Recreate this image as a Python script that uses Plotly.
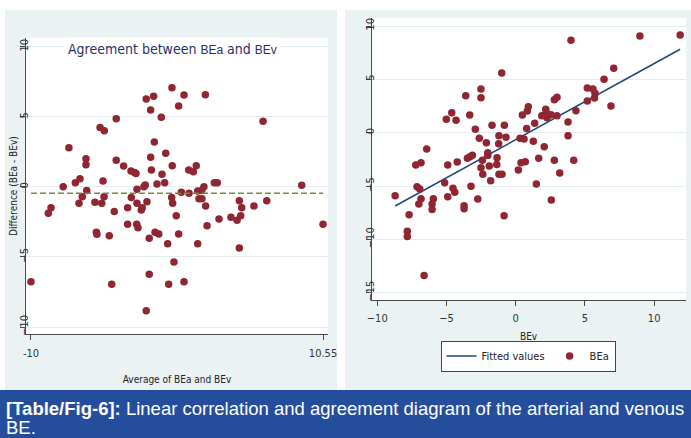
import plotly.graph_objects as go

W, H = 691, 438

# ---------------- data: left panel (agreement / Bland-Altman) ----------------
avg_be = [-10.00, -8.78, -8.59, -7.73, -7.33, -6.88, -6.55, -6.62, -6.39, -6.13,
          -6.13, -6.08, -5.50, -5.40, -5.36, -5.14, -4.84, -4.93, -4.86, -5.02,
          -4.49, -4.32, -4.14, -4.00, -4.00, -3.48, -3.20, -3.20, -2.96, -2.72,
          -2.61, -2.94, -2.54, -2.54, -2.56, -2.47, -2.24, -2.17, -2.05, -1.96,
          -1.89, -1.58, -1.37, -1.32, -1.58, -1.53, -1.84, -1.68, -1.68, -1.89,
          -1.27, -1.01, -1.13, -0.83, -0.78, -0.59, -0.52, -0.38, -0.31, -0.08,
          0.39, 0.77, -0.06, -0.10, -0.03, 0.22, 0.06, 0.39, 0.77, 0.58,
          1.12, 1.10, 1.42, 1.63, 1.73, 2.01, 2.17, 1.82, 2.03, 2.27,
          2.29, 2.39, 1.73, 2.90, 3.11, 3.23, 4.07, 4.50, 4.76, 4.66,
          4.83, 4.66, 5.69, 6.33, 6.59, 9.05, 10.55]
diff_be = [-6.76, -1.88, -1.48, 0.02, 2.81, 0.31, 0.59, -1.16, -0.69, 2.02,
           1.59, -0.26, -1.09, -3.24, -3.38, 4.24, 4.02, 0.43, -0.69, -1.16,
           -3.48, -6.95, -1.76, 4.88, 1.91, 1.50, -1.48, -2.66, 1.14, 1.04,
           0.96, -0.76, -0.16, -1.16, -2.66, -2.91, -1.64, -1.48, 0.02, 0.14,
           6.29, 5.50, 6.48, 3.21, 2.12, 1.21, -1.05, -3.66, -6.24, -8.84,
           -3.24, -3.36, 0.21, 4.98, 0.91, 0.31, 2.41, -4.05, -6.95, 7.09,
           5.79, 6.57, 1.52, -0.76, -1.16, -2.05, -5.36, -3.36, -6.76, -0.38,
           -0.45, 1.21, 1.09, 1.52, -0.29, -0.26, 0.02, -0.84, -0.84, 6.59,
           -1.36, -2.76, -4.05, 0.31, 0.31, -2.29, -2.16, -2.38, -2.05, -0.98,
           -1.48, -4.36, -1.36, 4.69, -0.98, 0.12, -2.66]
mean_diff = -0.45
left_xticks = [-10, 10.55]
left_xlabels = ["-10", "10.55"]
left_yticks = [-10, -5, 0, 5, 10]

# ---------------- data: right panel (correlation) ----------------
bev = [-1.01, -2.51, -2.51, -3.61, -4.62, -5.01, -4.31, -3.32, -6.43, -7.22,
       -6.84, -2.92, -2.63, -1.71, -0.82, -1.21, -1.23, -0.70, -2.12, -2.02,
       -2.02, -2.41, -3.13, -3.30, -3.49, -4.22, -4.91, -2.51, -2.38, -1.35,
       -1.37, -1.91, -1.21, -0.99, -1.81, -5.13, -3.23, -7.13, -6.93, -4.91,
       -4.53, -4.40, -8.71, -6.84, -7.00, -5.95, -6.04, -6.04, -7.70, -3.73,
       -3.73, -2.74, -0.84, -7.83, -7.83, -6.62, 0.19, 0.38, 0.69, 0.31,
       0.60, 0.48, 0.84, 0.91, 0.79, 3.99, 8.97, 11.88, 7.08, 6.38,
       5.17, 5.58, 5.73, 5.69, 5.17, 6.88, 4.35, 2.98, 2.79, 2.17,
       2.17, 2.33, 2.55, 2.26, 1.88, 2.98, 1.37, 3.78, 1.27, 3.78,
       2.06, 1.66, 2.79, 4.19, 3.18, 1.49, 2.57]
bea = [5.60, 4.10, 3.28, 3.47, 1.87, 1.26, 1.16, 1.66, -1.53, -3.03,
       -2.81, 0.32, -0.52, 0.69, 0.69, -0.28, -1.03, -0.43, -0.94, -1.87,
       -2.14, -2.59, -2.12, -2.25, -2.40, -2.75, -3.03, -3.28, -3.90, -2.34,
       -2.98, -3.12, -3.90, -3.90, -4.50, -4.69, -5.02, -5.06, -5.28, -6.00,
       -5.21, -5.59, -5.91, -6.19, -6.68, -6.19, -6.68, -7.20, -7.69, -6.84,
       -7.12, -6.22, -7.78, -9.23, -9.73, -13.39, -3.50, -2.81, -2.72, -0.52,
       -0.59, 1.66, 2.03, 2.44, 0.39, 8.66, 9.07, 9.16, 6.04, 5.01,
       4.19, 4.10, 3.69, 3.25, 2.97, 2.50, 2.06, 3.32, 3.09, 2.19,
       1.75, 1.75, 1.69, 1.41, 1.59, 1.59, 0.88, 1.00, -0.81, -0.28,
       -1.31, -2.40, -2.59, -2.59, -3.78, -4.81, -6.31]
fit_x = [-8.71, 11.88]
fit_y = [-6.87, 7.82]
right_xticks = [-10, -5, 0, 5, 10]
right_yticks = [-15, -10, -5, 0, 5, 10]

# ---------------- styles ----------------
NARROW = "Liberation Sans Narrow, Arial Narrow, DejaVu Sans Condensed, sans-serif"
SANS = "Liberation Sans, Arial, sans-serif"
MARKER = "#8F2631"
PANEL = "#EAF2F3"
GRID = "#E3EDF0"
AXC = "#4a4a4a"

def px(x):
    return x / W

def py(y):
    return 1 - y / H

fig = go.Figure()

# left panel
fig.add_trace(go.Scatter(x=avg_be, y=diff_be, mode="markers", showlegend=False,
                         marker=dict(color=MARKER, size=7.5), xaxis="x", yaxis="y"))
fig.add_trace(go.Scatter(x=[left_xticks[0], left_xticks[-1]], y=[mean_diff, mean_diff],
                         mode="lines", showlegend=False,
                         line=dict(color="#6E8C3C", width=1.6, dash="6px,3px"),
                         xaxis="x", yaxis="y"))

# right panel
fig.add_trace(go.Scatter(x=fit_x, y=fit_y, mode="lines", name="Fitted values",
                         line=dict(color="#1F4A80", width=1.6), xaxis="x2", yaxis="y2"))
fig.add_trace(go.Scatter(x=bev, y=bea, mode="markers", name="BEa",
                         marker=dict(color=MARKER, size=7.5), xaxis="x2", yaxis="y2"))

axis_common = dict(showline=True, linecolor=AXC, linewidth=1, ticks="outside",
                   ticklen=5, tickcolor=AXC, zeroline=False, automargin=False,
                   tickfont=dict(family=NARROW, size=11, color="#333"))

fig.update_layout(
    width=W, height=H, autosize=False,
    margin=dict(l=0, r=0, t=0, b=0),
    paper_bgcolor="white", plot_bgcolor="white",
    font=dict(family=NARROW, color="#333"),
    xaxis=dict(domain=[px(26), px(328)], range=[-10.35, 10.9],
               tickvals=left_xticks, ticktext=left_xlabels, showgrid=False,
               anchor="y", ticklabelstandoff=4,
               title=dict(text="Average of BEa and BEv", standoff=16,
                          font=dict(family=NARROW, size=10, color="#222")),
               **axis_common),
    yaxis=dict(domain=[py(334), py(38)], range=[-10.5, 10.64],
               tickvals=left_yticks, tickangle=-90, showgrid=True,
               gridcolor=GRID, gridwidth=1, anchor="x", ticklabelstandoff=-12,
               **axis_common),
    xaxis2=dict(domain=[px(372), px(686)], range=[-10.38, 12.30],
                tickvals=right_xticks, showgrid=False, anchor="y2",
                ticklabelstandoff=3, **axis_common),
    yaxis2=dict(domain=[py(300), py(18)], range=[-15.68, 10.75],
                tickvals=right_yticks, tickangle=-90, showgrid=True,
                gridcolor=GRID, gridwidth=1, anchor="x2", ticklabelstandoff=-12,
                **axis_common),
    legend=dict(orientation="h", x=px(528), xanchor="center", y=py(356),
                yanchor="middle", bgcolor="white", bordercolor="#444",
                borderwidth=1, font=dict(family=NARROW, size=11, color="#222"),
                itemwidth=30, tracegroupgap=0),
)

shapes = [
    dict(type="rect", xref="paper", yref="paper", x0=px(5), x1=px(337),
         y0=py(390), y1=py(10), fillcolor=PANEL, line=dict(width=0), layer="below"),
    dict(type="rect", xref="paper", yref="paper", x0=px(345), x1=px(691),
         y0=py(390), y1=py(10), fillcolor=PANEL, line=dict(width=0), layer="below"),
    dict(type="rect", xref="paper", yref="paper", x0=px(26), x1=px(328),
         y0=py(334), y1=py(38), fillcolor="white", line=dict(width=0), layer="below"),
    dict(type="rect", xref="paper", yref="paper", x0=px(372), x1=px(686),
         y0=py(300), y1=py(18), fillcolor="white", line=dict(width=0), layer="below"),
    dict(type="rect", xref="paper", yref="paper", x0=0, x1=1,
         y0=0, y1=py(390), fillcolor="#244E9B", line=dict(width=0), layer="below"),
]
fig.update_layout(shapes=shapes)

small = "font-family:Liberation Sans, Arial, sans-serif;font-size:12px"
annotations = [
    dict(xref="paper", yref="paper", x=px(172), y=py(49), xanchor="center",
         yanchor="middle", showarrow=False, bgcolor="white", borderpad=3,
         text=("Agreement between <span style='" + small + "'>BEa</span> and "
               "<span style='" + small + "'>BEv</span>"),
         font=dict(family=NARROW, size=14, color="#28306A")),
    dict(xref="paper", yref="paper", x=px(14), y=py(186), xanchor="center",
         yanchor="middle", showarrow=False, textangle=-90,
         text="Difference (BEa - BEv)",
         font=dict(family=NARROW, size=10, color="#222")),
    dict(xref="paper", yref="paper", x=px(529), y=py(336), xanchor="center",
         yanchor="middle", showarrow=False, text="BEv",
         font=dict(family=NARROW, size=10, color="#222")),
    dict(xref="paper", yref="paper", x=px(4), y=py(408), xanchor="left",
         yanchor="middle", showarrow=False,
         text="<b>[Table/Fig-6]:</b> Linear correlation and agreement diagram of the arterial and venous",
         font=dict(family=SANS, size=18.5, color="white")),
    dict(xref="paper", yref="paper", x=px(4), y=py(427), xanchor="left",
         yanchor="middle", showarrow=False, text="BE.",
         font=dict(family=SANS, size=18.5, color="white")),
]
fig.update_layout(annotations=annotations)

fig.write_html("out.html", config={"displayModeBar": False},
               post_script="document.body.style.margin='0px';document.body.style.overflow='hidden';")
